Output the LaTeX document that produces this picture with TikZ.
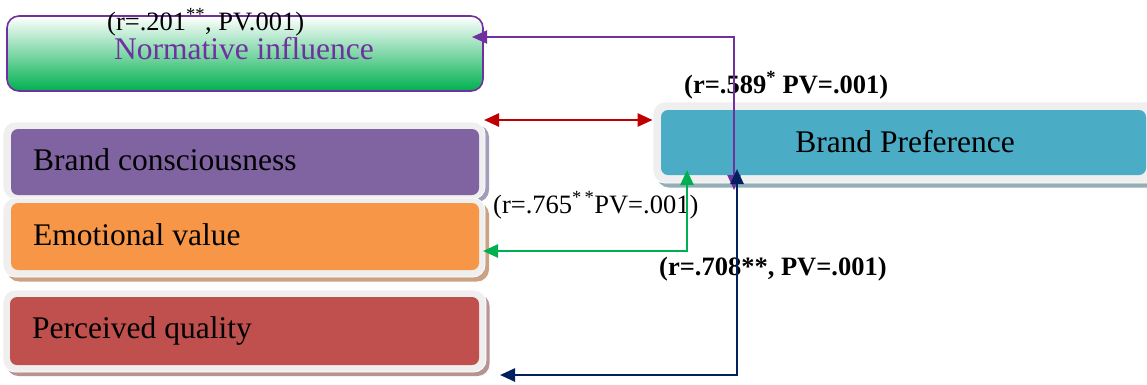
\documentclass[tikz,border=0pt]{standalone}
\usepackage{fontspec}
\setmainfont{Liberation Serif}
\usetikzlibrary{arrows.meta}

\definecolor{normpurple}{HTML}{7030A0}
\definecolor{ngreen}{HTML}{00B050}
\definecolor{bcpurple}{HTML}{8064A2}
\definecolor{emorange}{HTML}{F79646}
\definecolor{pqred}{HTML}{C0504D}
\definecolor{bpteal}{HTML}{4BACC6}
\definecolor{framegray}{HTML}{EFEFEF}
\definecolor{bcshadow}{HTML}{A39DBB}
\definecolor{emshadow}{HTML}{CBA384}
\definecolor{pqshadow}{HTML}{B89393}
\definecolor{bpshadow}{HTML}{93AEB7}
\definecolor{redarrow}{HTML}{C00000}
\definecolor{navyarrow}{HTML}{002060}

\tikzset{
  boxframe/.style={draw=white, line width=0.8pt, fill=framegray, rounded corners=12pt, inner sep=0pt},
  boxshadow/.style={rounded corners=12pt, inner sep=0pt},
  boxcore/.style={rounded corners=7pt, inner sep=0pt},
  boxlabel/.style={inner sep=0pt, anchor=base west, font=\fontsize{31.5}{36}\selectfont},
  statlabel/.style={inner sep=0pt, anchor=base west, font=\fontsize{26.5}{30}\selectfont},
  conn/.style={line width=2.5pt,
    {Triangle[length=15pt,width=13pt]}-{Triangle[length=15pt,width=13pt]}},
}

\begin{document}
\begin{tikzpicture}[x=1pt,y=-1pt]
\useasboundingbox (0,0) rectangle (1147,384);

% Normative influence
\node[draw=normpurple, line width=1.6pt, rounded corners=12pt, inner sep=0pt,
      top color=white, middle color=ngreen!40!white, bottom color=ngreen,
      minimum width=476pt, minimum height=75pt] (ni) at (245,53.5) {};
\node[boxlabel, anchor=base, text=normpurple] (nitext) at (244,59) {Normative influence};

% Brand consciousness
\node[boxshadow, fill=bcshadow, minimum width=482pt, minimum height=77pt] (bcs) at (248,163.5) {};
\node[boxframe, minimum width=482pt, minimum height=77pt] (bcf) at (244,160.5) {};
\node[boxcore, fill=bcpurple, minimum width=468pt, minimum height=66pt] (bc) at (245,162) {};
\node[boxlabel] (bctext) at (33,170) {Brand consciousness};

% Emotional value
\node[boxshadow, fill=emshadow, minimum width=482pt, minimum height=79pt] (ems) at (248,242) {};
\node[boxframe, minimum width=482pt, minimum height=79pt] (emf) at (244,237.5) {};
\node[boxcore, fill=emorange, minimum width=468pt, minimum height=67pt] (em) at (245,236.5) {};
\node[boxlabel] (emtext) at (33,245) {Emotional value};

% Perceived quality
\node[boxshadow, fill=pqshadow, minimum width=483pt, minimum height=82pt] (pqs) at (248,335) {};
\node[boxframe, minimum width=483pt, minimum height=82pt] (pqf) at (244.5,331) {};
\node[boxcore, fill=pqred, minimum width=469pt, minimum height=68pt] (pq) at (244.5,331) {};
\node[boxlabel] (pqtext) at (32,338) {Perceived quality};

% Brand Preference
\node[boxshadow, fill=bpshadow, minimum width=512pt, minimum height=81pt] (bps) at (913,147) {};
\node[boxframe, minimum width=512pt, minimum height=81pt] (bpf) at (909,142.5) {};
\node[boxcore, fill=bpteal, minimum width=485pt, minimum height=65pt] (bp) at (903.5,142.5) {};
\node[boxlabel, anchor=base] (bptext) at (905,152) {Brand Preference};

% Correlation labels
\node[statlabel] (s201) at (107,30) {(r=.201\textsuperscript{**}, PV.001)};
\node[statlabel, font=\fontsize{26.5}{30}\selectfont\bfseries] (s589) at (684,93) {(r=.589\textsuperscript{*} PV=.001)};
\node[statlabel] (s765) at (493,213) {(r=.765\textsuperscript{*\,*}PV=.001)};
\node[statlabel, font=\fontsize{26.5}{30}\selectfont\bfseries] (s708) at (659,275) {(r=.708**, PV=.001)};

% Connector end points
\coordinate (redL) at (484,120);
\coordinate (purL) at (472,37);
\coordinate (purB) at (734,190);
\coordinate (grnT) at (687,170);
\coordinate (grnL) at (483,251);
\coordinate (navT) at (737,169);
\coordinate (navL) at (500,375);

% Connectors
\draw[conn, redarrow] (redL) -- (redL -| bpf.west);
\draw[conn, normpurple, line width=2pt] (purL) -| (purB);
\draw[conn, ngreen] (grnT) |- (grnL);
\draw[conn, navyarrow] (navT) |- (navL);
\end{tikzpicture}
\end{document}
